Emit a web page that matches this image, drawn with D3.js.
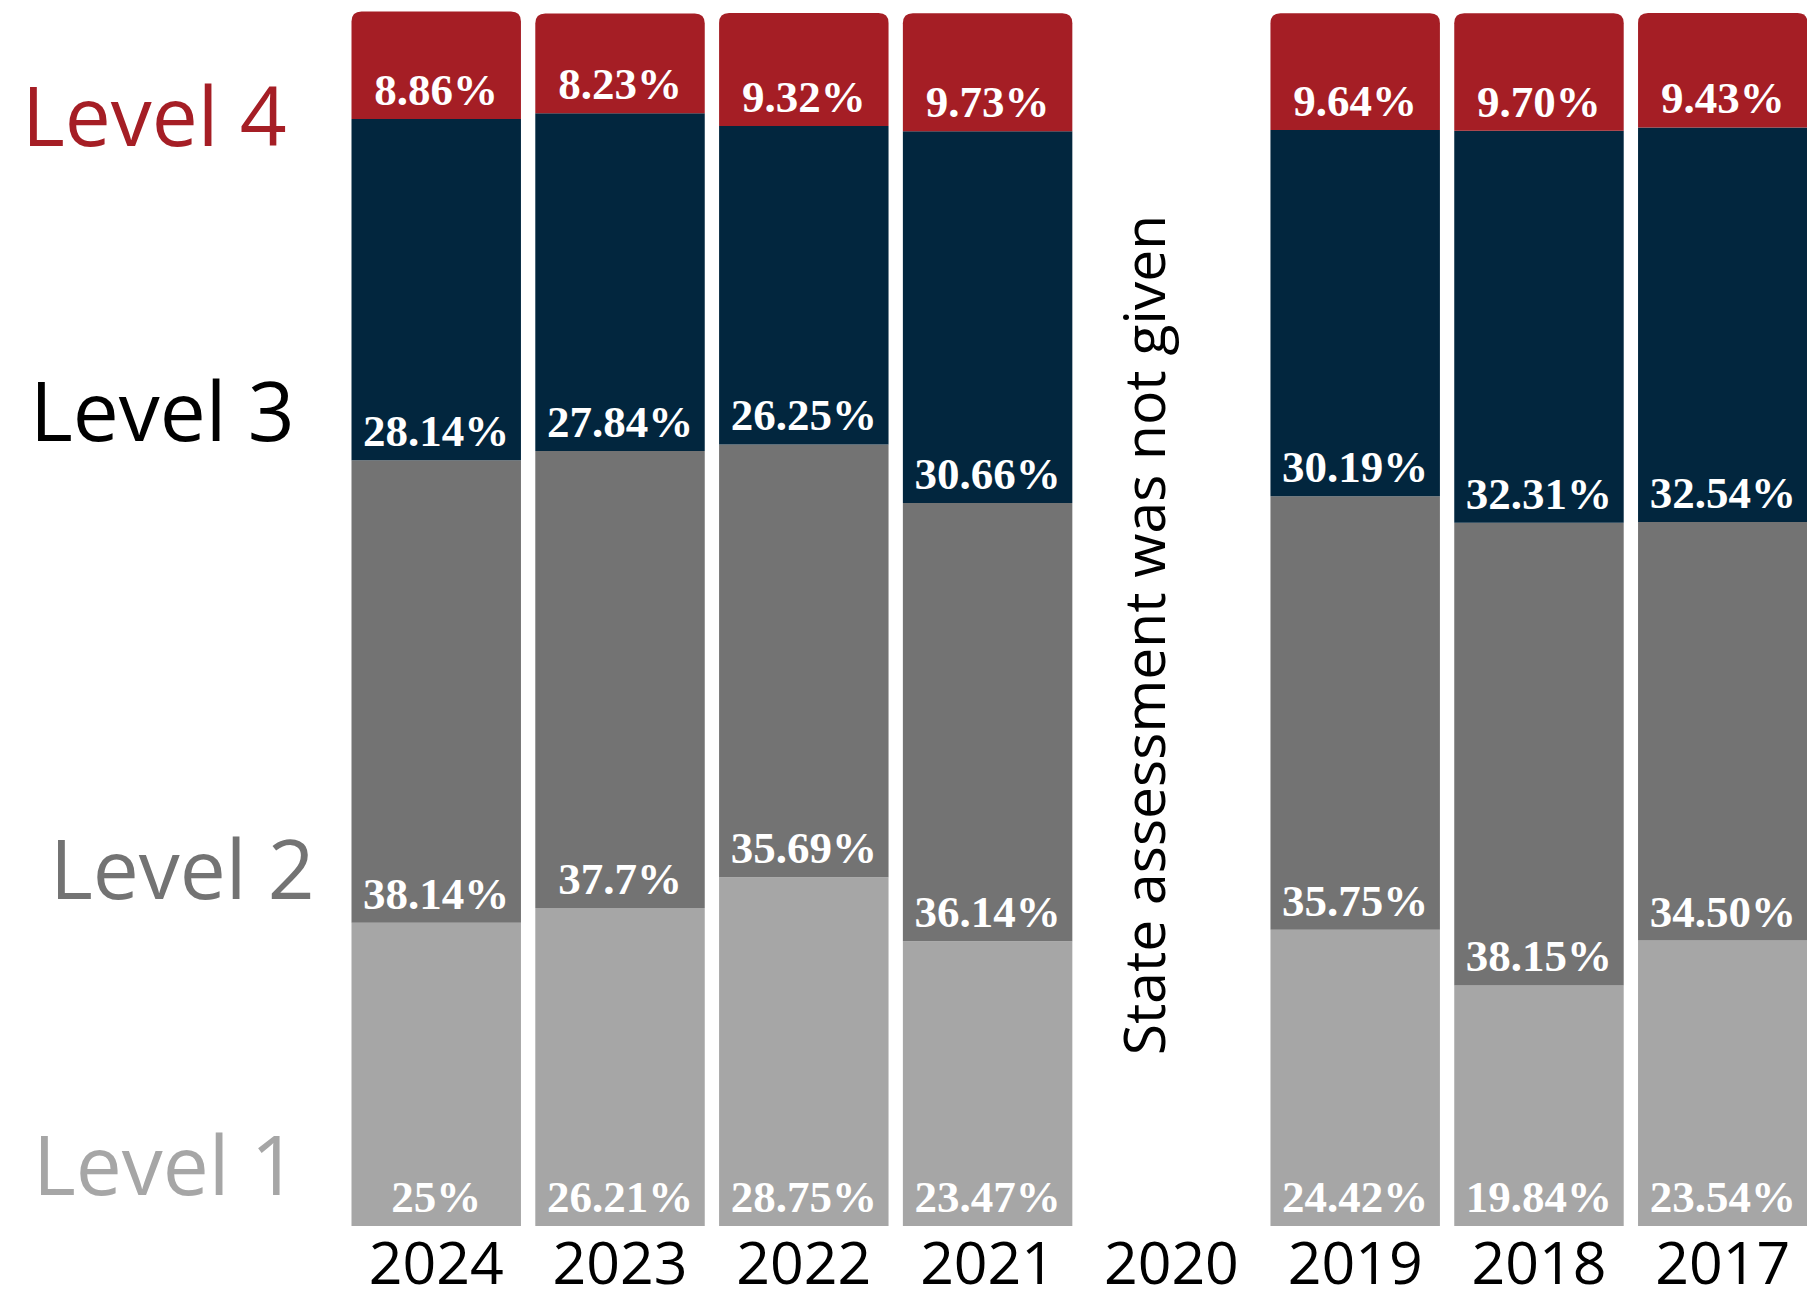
<!DOCTYPE html>
<html>
<head>
<meta charset="utf-8">
<script src="https://cdn.jsdelivr.net/npm/d3@7"></script>
<style>
  html, body { margin: 0; padding: 0; background: #ffffff; }
  svg { display: block; }
</style>
</head>
<body>
<div id="chart"></div>
<script>
// ---- data ----
const years = ["2024", "2023", "2022", "2021", "2020", "2019", "2018", "2017"];
const level1 = [25, 26.21, 28.75, 23.47, null, 24.42, 19.84, 23.54];
const level2 = [38.14, 37.7, 35.69, 36.14, null, 35.75, 38.15, 34.50];
const level3 = [28.14, 27.84, 26.25, 30.66, null, 30.19, 32.31, 32.54];
const level4 = [8.86, 8.23, 9.32, 9.73, null, 9.64, 9.70, 9.43];
const level1Text = ["25%", "26.21%", "28.75%", "23.47%", null, "24.42%", "19.84%", "23.54%"];
const level2Text = ["38.14%", "37.7%", "35.69%", "36.14%", null, "35.75%", "38.15%", "34.50%"];
const level3Text = ["28.14%", "27.84%", "26.25%", "30.66%", null, "30.19%", "32.31%", "32.54%"];
const level4Text = ["8.86%", "8.23%", "9.32%", "9.73%", null, "9.64%", "9.70%", "9.43%"];
const levelNames = ["Level 1", "Level 2", "Level 3", "Level 4"];
const noDataNote = "State assessment was not given";

// ---- styles / layout ----
const W = 1807, H = 1302;
const colors = ["#a6a6a6", "#737373", "#02263e", "#a51e25"];
const levelLabelColors = ["#a6a6a6", "#737373", "#000000", "#a51e25"];
const levelLabelPos = [[33, 1195], [50, 899], [30, 441], [22, 146]];
const sansFont = "'Open Sans', 'Noto Sans', sans-serif";
const serifFont = "'Liberation Serif', 'DejaVu Serif', serif";

const series = [level1, level2, level3, level4];
const texts = [level1Text, level2Text, level3Text, level4Text];

const svg = d3.select("#chart").append("svg")
  .attr("width", W).attr("height", H);

const x = d3.scaleBand().domain(years).range([351.5, 1807.5]).paddingInner(0.078).paddingOuter(0);
const maxTotal = d3.max(years.map((_, i) => series.reduce((s, arr) => s + (arr[i] || 0), 0)));
const y = d3.scaleLinear().domain([0, maxTotal]).range([1226, 11.5]);

// build stacked segments
const segs = [];
years.forEach((yr, i) => {
  if (level1[i] == null) return;
  let base = 0;
  series.forEach((arr, k) => {
    segs.push({ year: yr, k, y0: base, y1: base + arr[i], text: texts[k][i] });
    base += arr[i];
  });
});

const r = 10;
function segPath(d) {
  const x0 = x(d.year), x1 = x(d.year) + x.bandwidth();
  const top = y(d.y1), bot = y(d.y0);
  if (d.k === 3) {
    return `M${x0},${bot}L${x0},${top + r}Q${x0},${top} ${x0 + r},${top}L${x1 - r},${top}Q${x1},${top} ${x1},${top + r}L${x1},${bot}Z`;
  }
  return `M${x0},${bot}L${x0},${top}L${x1},${top}L${x1},${bot}Z`;
}

svg.append("g").selectAll("path").data(segs).join("path")
  .attr("d", segPath)
  .attr("fill", d => colors[d.k]);

svg.append("g").selectAll("text").data(segs).join("text")
  .attr("x", d => x(d.year) + x.bandwidth() / 2)
  .attr("y", d => y(d.y0) - 14)
  .attr("text-anchor", "middle")
  .attr("font-family", serifFont)
  .attr("font-weight", "bold")
  .attr("font-size", 45)
  .attr("fill", "#ffffff")
  .text(d => d.text);

// x axis labels
svg.append("g").selectAll("text").data(years).join("text")
  .attr("x", d => x(d) + x.bandwidth() / 2)
  .attr("y", 1284)
  .attr("text-anchor", "middle")
  .attr("font-family", sansFont)
  .attr("font-size", 59)
  .attr("fill", "#000000")
  .text(d => d);

// level labels
svg.append("g").selectAll("text").data(levelNames).join("text")
  .attr("x", (d, i) => levelLabelPos[i][0])
  .attr("y", (d, i) => levelLabelPos[i][1])
  .attr("font-family", sansFont)
  .attr("font-size", 82)
  .attr("fill", (d, i) => levelLabelColors[i])
  .text(d => d);

// no data note
const gapYear = years[level1.findIndex(v => v == null)];
svg.append("text")
  .attr("transform", `translate(${x(gapYear) + x.bandwidth() / 2 - 6},635) rotate(-90)`)
  .attr("text-anchor", "middle")
  .attr("font-family", sansFont)
  .attr("font-size", 57)
  .attr("fill", "#000000")
  .text(noDataNote);
</script>
</body>
</html>
